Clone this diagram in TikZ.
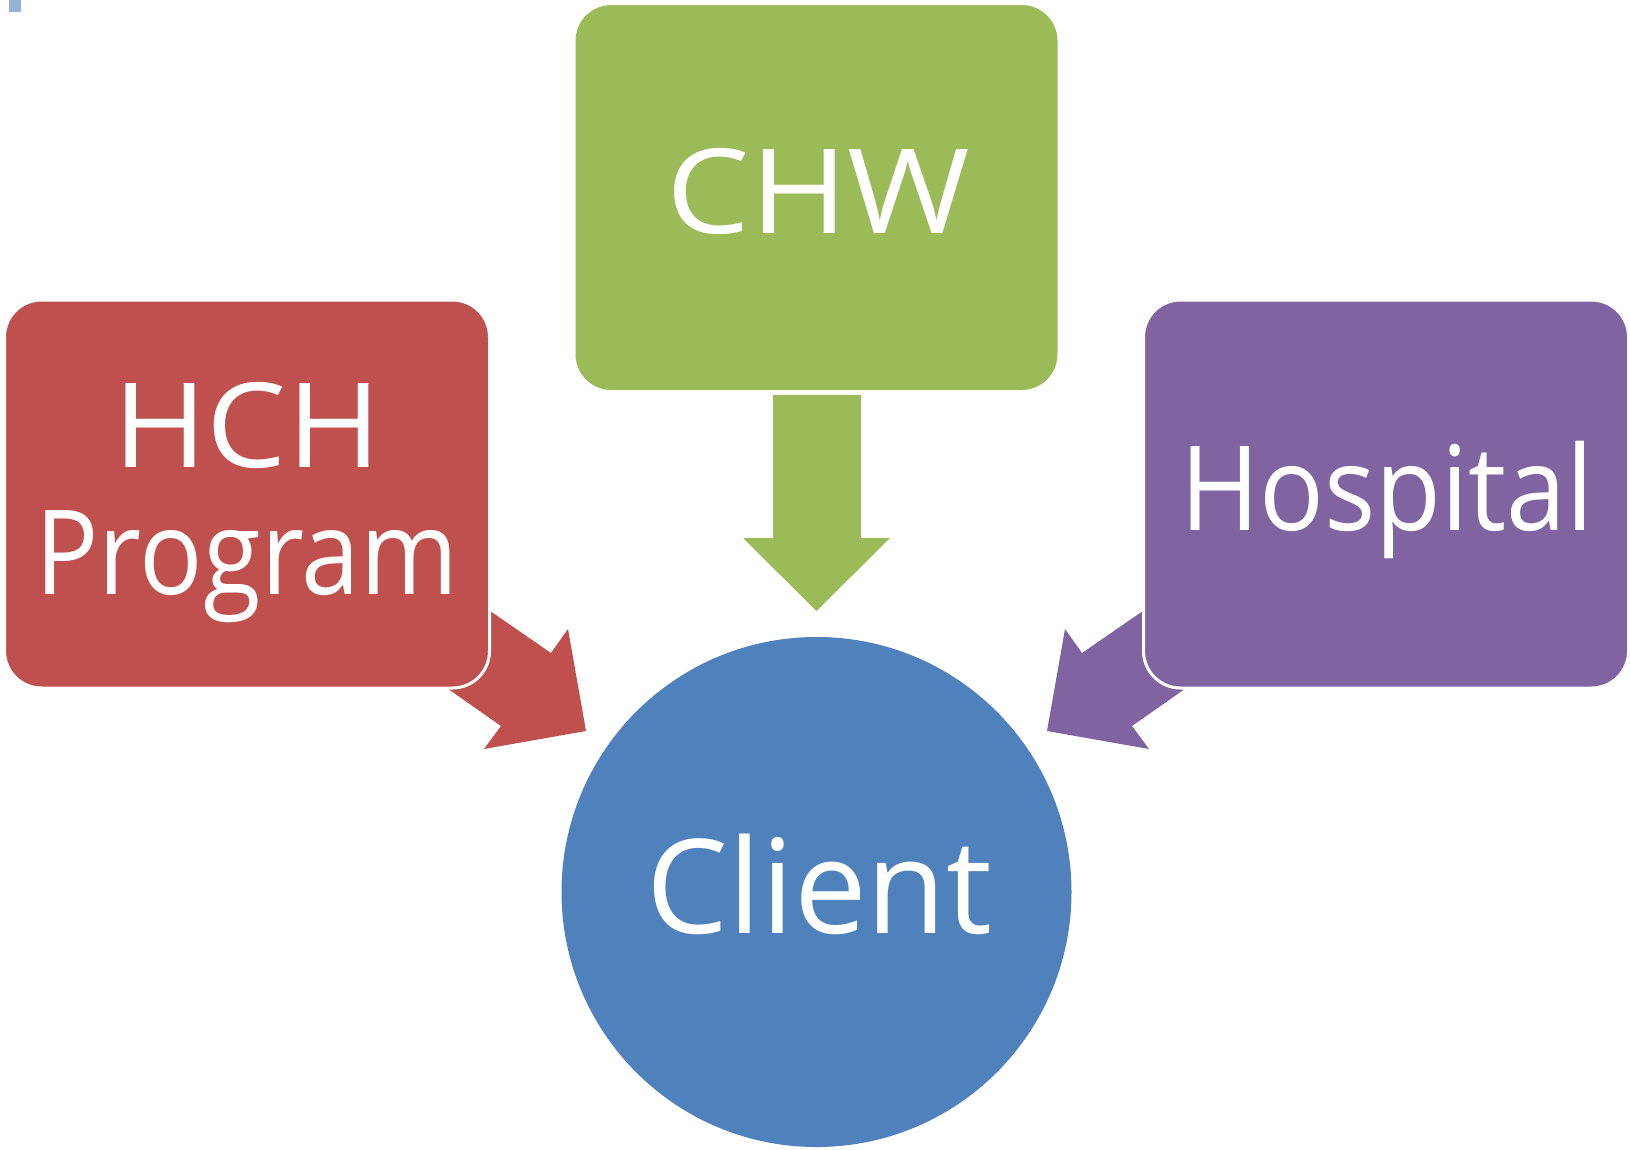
\documentclass[tikz,border=0pt]{standalone}
\usepackage{fontspec}
\setmainfont{Open Sans}
\usepackage{graphicx}
\definecolor{chwgreen}{HTML}{9BBB59}
\definecolor{hchred}{HTML}{C0504D}
\definecolor{hosppurple}{HTML}{8064A2}
\definecolor{clientblue}{HTML}{4F81BD}
\definecolor{smallsq}{HTML}{95B3D7}
\begin{document}
\begin{tikzpicture}[x=1pt,y=-1pt,
  box/.style={draw=white, line width=3pt, rounded corners=37pt,
    minimum width=485pt, minimum height=388pt, inner sep=0pt},
  lbl/.style={text=white, inner sep=0pt, anchor=base, align=center},
  bigfont/.style={font=\fontsize{117.6}{127}\selectfont},
  hugefont/.style={font=\fontsize{131}{141}\selectfont}]
\fill[white] (0,0) rectangle (1630,1149);
\useasboundingbox (0,0) rectangle (1630,1149);
\fill[smallsq] (9,0) rectangle (21,12);

% block arrows (drawn behind the boxes)
\fill[hchred] (464,593) -- (551,653) -- (568,629) -- (586,731) -- (484,749) -- (501,726) -- (424,672) -- cycle;
\fill[hosppurple] (1169,593) -- (1082,653) -- (1065,629) -- (1047,731) -- (1149,749) -- (1132,726) -- (1209,672) -- cycle;
\fill[chwgreen] (773,395) -- (861,395) -- (861,538) -- (890,538) -- (816.5,611) -- (743,538) -- (773,538) -- cycle;

% boxes and circle
\node[box, fill=chwgreen] (chw) at (816.5,197.5) {};
\node[box, fill=hchred] (hch) at (247,494) {};
\node[box, fill=hosppurple] (hosp) at (1386,494) {};
\node[circle, fill=clientblue, minimum size=510pt, inner sep=0pt] (client) at (816.5,892) {};

% labels
\node[lbl, bigfont] (chwt) at (818.5,233) {\scalebox{1.125}[1]{CHW}};
\node[lbl, bigfont] (hcht) at (247,594) {\scalebox{1.08}[1]{HCH}\\\scalebox{0.895}[1]{Program}};
\node[lbl, bigfont] (hospt) at (1387,530) {\scalebox{0.915}[1]{Hospital}};
\node[lbl, hugefont] (clientt) at (819.5,933) {\scalebox{0.99}[1]{Client}};
\end{tikzpicture}
\end{document}
